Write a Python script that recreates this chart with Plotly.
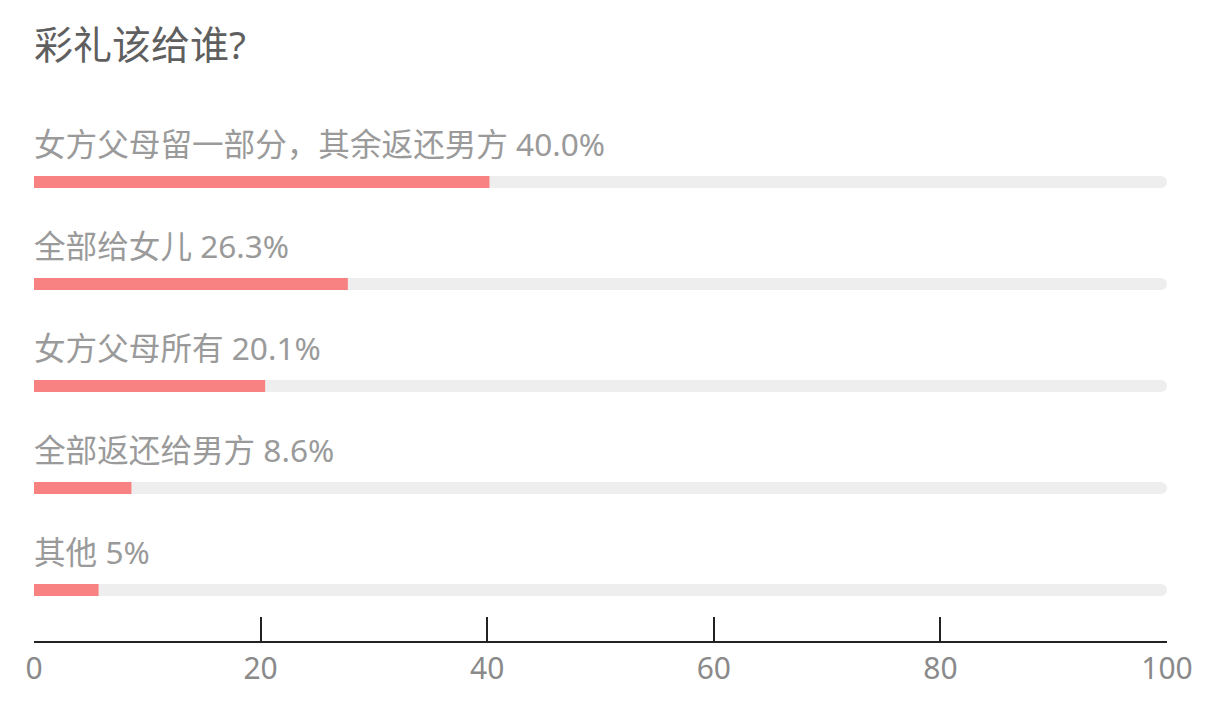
import plotly.graph_objects as go

# ---- data -------------------------------------------------------------------
categories = ["女方父母留一部分，其余返还男方", "全部给女儿", "女方父母所有", "全部返还给男方", "其他"]
pct_labels = ["40.0%", "26.3%", "20.1%", "8.6%", "5%"]
bar_values = [40.2, 27.7, 20.4, 8.6, 5.7]   # bar lengths as drawn
track_max = [100, 100, 100, 100, 100]
tick_vals = [0, 20, 40, 60, 80, 100]

FONT = "Noto Sans, Noto Sans CJK SC"
pos = list(range(len(categories)))

fig = go.Figure()
fig.add_trace(go.Bar(y=pos, x=track_max, orientation="h", width=0.12,
                     marker=dict(color="#eeeeee", cornerradius=6, line=dict(width=0)),
                     hoverinfo="skip", showlegend=False))
fig.add_trace(go.Bar(y=pos, x=bar_values, orientation="h", width=0.12,
                     marker=dict(color="#f88282", line=dict(width=0)),
                     hovertext=[f"{c} {p}" for c, p in zip(categories, pct_labels)],
                     hoverinfo="text", showlegend=False))

for i, (c, p) in enumerate(zip(categories, pct_labels)):
    fig.add_annotation(x=0, y=i, xref="x", yref="y", text=f"{c} {p}", showarrow=False,
                       xanchor="left", yanchor="middle", yshift=39, xshift=-2,
                       font=dict(family=FONT, size=31.6, color="#9a9a9a"))

# page body adds an 8px offset, margins compensate
fig.update_layout(
    barmode="overlay", width=1207, height=714,
    plot_bgcolor="white", paper_bgcolor="white",
    margin=dict(l=26, r=48, t=123, b=81),
    title=dict(text="彩礼该给谁?", x=0, xref="paper", xanchor="left",
               yref="container", y=0.948, yanchor="middle",
               font=dict(family=FONT, size=39, color="#5f5f5f")),
    font=dict(family=FONT),
)
fig.update_xaxes(range=[0, 100], tickvals=tick_vals, showgrid=False, zeroline=False,
                 showline=True, linecolor="#222222", linewidth=2,
                 ticks="inside", ticklen=24, tickwidth=2, tickcolor="#222222",
                 tickfont=dict(family=FONT, size=30, color="#8a8a8a"))
fig.update_yaxes(range=[4.5, -0.5], showgrid=False, zeroline=False, showticklabels=False,
                 showline=False)

fig.write_html("out.html")
